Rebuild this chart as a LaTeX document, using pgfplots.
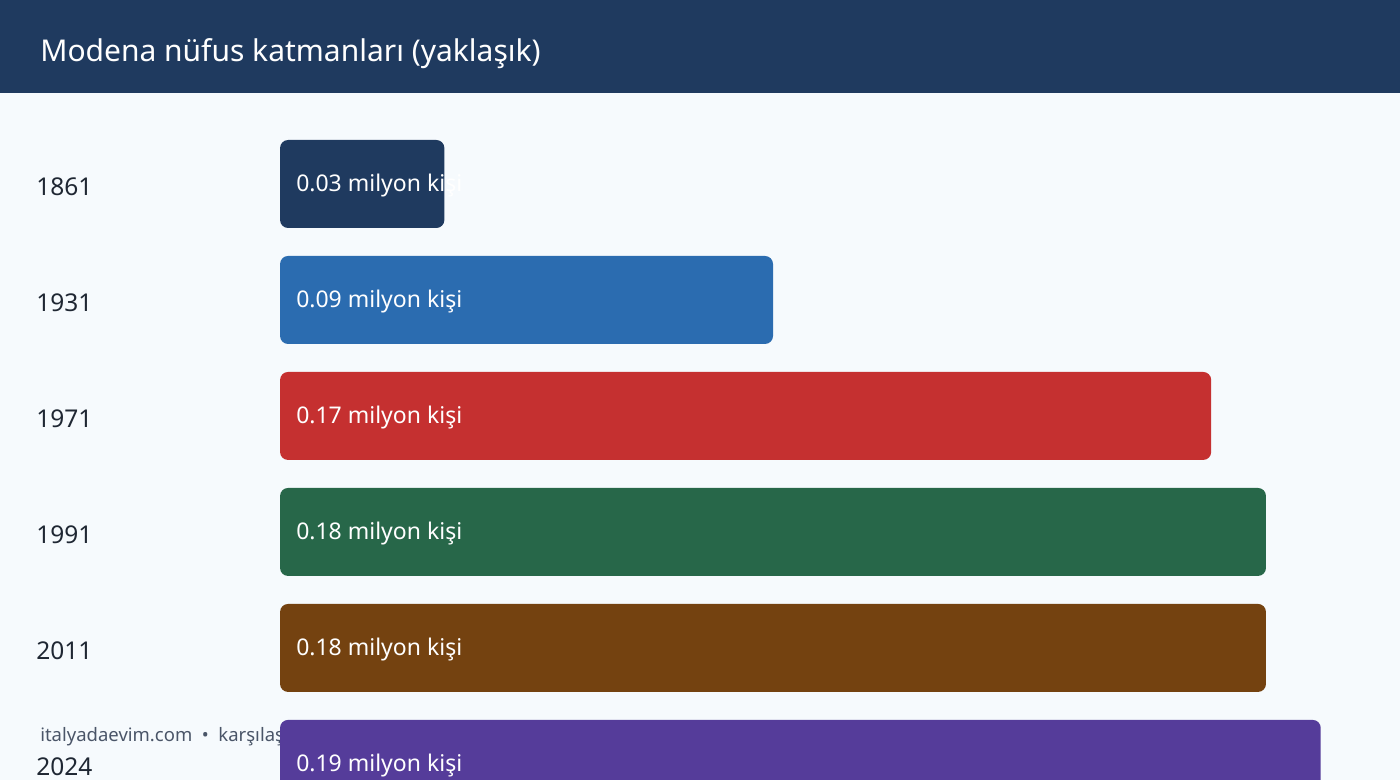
\documentclass[border=0pt]{standalone}
\usepackage{fontspec}
\setmainfont{Noto Sans}
\usepackage{pgfplots}
\pgfplotsset{compat=1.18}
\usepackage{pgfplotstable}

\definecolor{bg}{HTML}{F6FAFD}
\definecolor{navy}{HTML}{1F3A5F}
\definecolor{cblue}{HTML}{2B6CB0}
\definecolor{cred}{HTML}{C53030}
\definecolor{cgreen}{HTML}{276749}
\definecolor{cbrown}{HTML}{744210}
\definecolor{cpurple}{HTML}{553C9A}
\definecolor{yeartext}{HTML}{1F2733}
\definecolor{foot}{HTML}{4A5568}

% one bar per row: x = population (million), y = row centre (px from top)
\pgfplotstableread{
x     y    label
0.03  184  {0.03 milyon kişi}
0.09  300  {0.09 milyon kişi}
0.17  416  {0.17 milyon kişi}
0.18  532  {0.18 milyon kişi}
0.18  648  {0.18 milyon kişi}
0.19  764  {0.19 milyon kişi}
}\rows

\begin{document}
\begin{tikzpicture}[x=1pt,y=1pt]
  \fill[bg] (0,0) rectangle (1400,780);
  \fill[navy] (0,687) rectangle (1400,780);
  \node[anchor=west, text=white, inner sep=0,
        font=\fontsize{30}{34}\selectfont] at (40,726) {Modena nüfus katmanları (yaklaşık)};
  \node[anchor=base west, text=foot, inner sep=0,
        font=\fontsize{18.5}{22}\selectfont] at (40,38)
        {italyadaevim.com\ \ •\ \ karşılaştırma amaçlıdır};

  \begin{axis}[
      at={(0,0)}, anchor=south west,
      scale only axis, width=1400pt, height=780pt,
      xmin=-0.051113, xmax=0.204454,
      ymin=0, ymax=780, y dir=reverse,
      axis line style={draw=none},
      major tick length=0pt,
      xtick=\empty,
      ytick={184,300,416,532,648,764},
      yticklabels={1861,1931,1971,1991,2011,2024},
      yticklabel style={anchor=west, xshift=36pt, yshift=-3pt, inner sep=0,
                        text=yeartext, font=\fontsize{24.5}{28}\selectfont},
    ]
    \addplot[xbar, bar width=88, bar shift=0pt, fill=navy, draw=none, rounded corners=8pt]
      coordinates {(0.03,184)};
    \addplot[xbar, bar width=88, bar shift=0pt, fill=cblue, draw=none, rounded corners=8pt]
      coordinates {(0.09,300)};
    \addplot[xbar, bar width=88, bar shift=0pt, fill=cred, draw=none, rounded corners=8pt]
      coordinates {(0.17,416)};
    \addplot[xbar, bar width=88, bar shift=0pt, fill=cgreen, draw=none, rounded corners=8pt]
      coordinates {(0.18,532)};
    \addplot[xbar, bar width=88, bar shift=0pt, fill=cbrown, draw=none, rounded corners=8pt]
      coordinates {(0.18,648)};
    \addplot[xbar, bar width=88, bar shift=0pt, fill=cpurple, draw=none, rounded corners=8pt]
      coordinates {(0.19,764)};

    % value labels, placed at the bar start
    \addplot[draw=none, mark=none, nodes near coords,
             point meta=explicit symbolic,
             every node near coord/.style={anchor=west, inner sep=0, xshift=16pt, yshift=-2pt,
                 text=white, font=\fontsize{23}{27}\selectfont}]
      table[x expr=0, y=y, meta=label] {\rows};
  \end{axis}
\end{tikzpicture}
\end{document}
